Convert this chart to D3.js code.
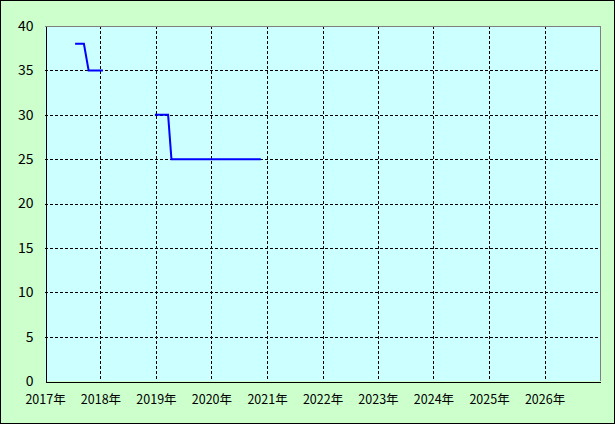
<!DOCTYPE html>
<html><head><meta charset="utf-8">
<script src="https://cdn.jsdelivr.net/npm/d3@7"></script>
<style>html,body{margin:0;padding:0;background:#ccffcc;}svg{display:block;}</style>
</head><body>
<script>
// Data (dates; null marks the gap between runs)
const dates = ["2017-07-18","2017-09-14","2017-10-15","2018-01-17",null,"2018-12-25","2019-03-22","2019-04-13","2020-11-21"];
const values = [38,38,35,35,null,30,30,25,25];
const yearTicks = [2017,2018,2019,2020,2021,2022,2023,2024,2025,2026];
const yTicks = [0,5,10,15,20,25,30,35,40];
const yearSuffix = "年";

const W = 615, H = 424;
const m = {left:45, top:26, right:600, bottom:381};
const svg = d3.select("body").append("svg").attr("width",W).attr("height",H);

svg.append("rect").attr("x",0.5).attr("y",0.5).attr("width",W-1).attr("height",H-1)
  .attr("fill","#ccffcc").attr("stroke","#000");

const x = d3.scaleTime().domain([new Date(2017,0,1), new Date(2027,0,1)]).range([m.left, m.right]);
const y = d3.scaleLinear().domain([0,40]).range([m.bottom, m.top]);

svg.append("rect").attr("x",m.left).attr("y",m.top).attr("width",m.right-m.left).attr("height",m.bottom-m.top)
  .attr("fill","#ccffff");

// grid
const g = svg.append("g").attr("shape-rendering","crispEdges");
g.selectAll("line.vg").data(yearTicks.slice(1)).enter().append("line")
  .attr("x1",d=>Math.round(x(new Date(d,0,1)))+0.5).attr("x2",d=>Math.round(x(new Date(d,0,1)))+0.5)
  .attr("y1",m.top).attr("y2",m.bottom).attr("stroke","#000").attr("stroke-dasharray","3,2");
g.selectAll("line.hg").data(yTicks.filter(v=>v>0 && v<40)).enter().append("line")
  .attr("y1",d=>Math.round(y(d))+0.5).attr("y2",d=>Math.round(y(d))+0.5)
  .attr("x1",m.left).attr("x2",m.right).attr("stroke","#000").attr("stroke-dasharray","3,2");

// plot border: top/right gray
g.append("path").attr("d",`M${m.left},${m.top+0.5}H${m.right+0.5}V${m.bottom}`)
  .attr("fill","none").attr("stroke","#808080");
// axes
const xAxis = d3.axisBottom(x).tickValues(yearTicks.map(v=>new Date(v,0,1)))
  .tickFormat(d=>d.getFullYear()+yearSuffix).tickSize(0).tickPadding(14);
const ax = svg.append("g").attr("transform",`translate(0,${m.bottom+0.5})`).call(xAxis);
ax.select(".domain").attr("stroke","#000").attr("shape-rendering","crispEdges");
ax.selectAll("text").attr("font-family","'Noto Sans CJK JP', sans-serif").attr("font-size","12.5px").attr("fill","#000");

const yAxis = d3.axisLeft(y).tickValues(yTicks).tickSize(0).tickPadding(12);
const ay = svg.append("g").attr("transform",`translate(${m.left+0.5},0)`).call(yAxis);
ay.select(".domain").attr("stroke","#000").attr("shape-rendering","crispEdges");
ay.selectAll("text").attr("font-family","'Noto Sans CJK JP', sans-serif").attr("font-size","14px").attr("fill","#000");

// line
const pts = dates.map((d,i)=>({d: d ? d3.timeParse("%Y-%m-%d")(d) : null, v: values[i]}));
const line = d3.line().defined(p=>p.d!==null && p.v!==null).x(p=>x(p.d)).y(p=>y(p.v));
svg.append("path").datum(pts).attr("d",line).attr("fill","none").attr("stroke","#0000ff").attr("stroke-width",2);
</script>
</body></html>
